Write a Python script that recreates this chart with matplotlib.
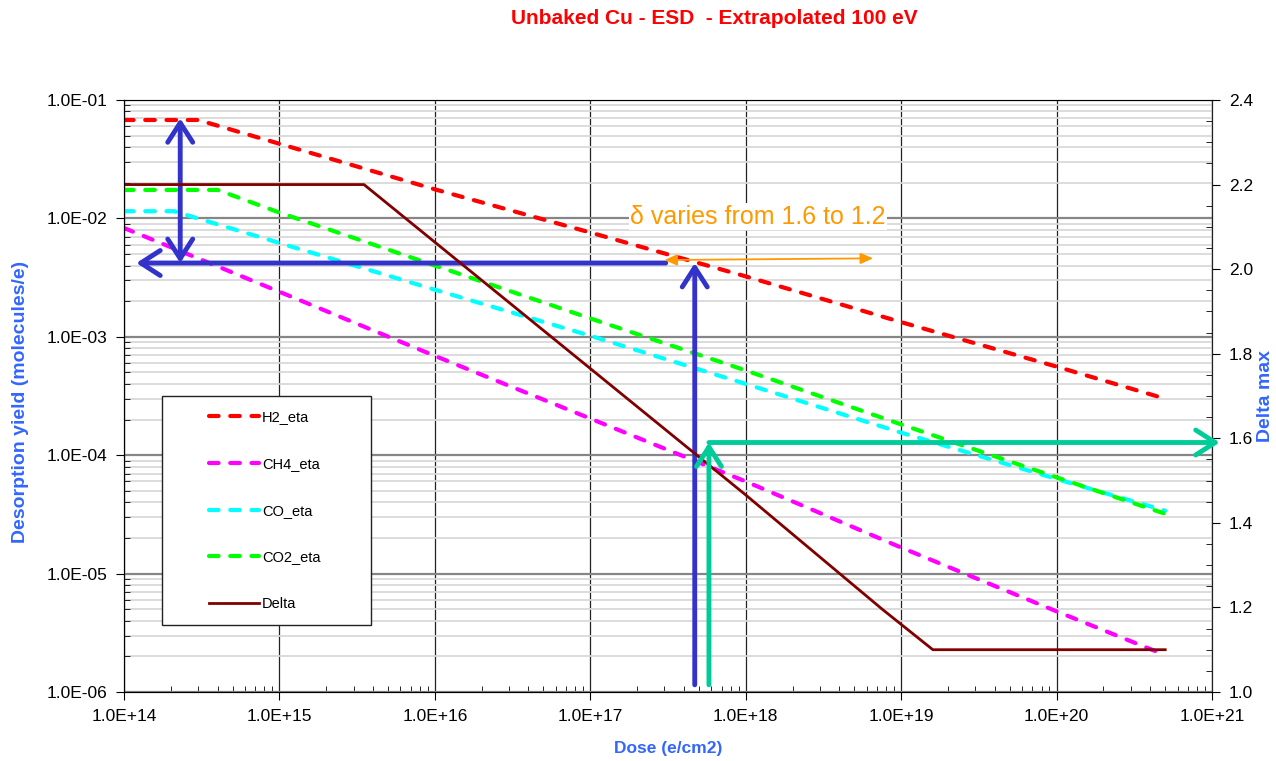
import numpy as np
import matplotlib.pyplot as plt
from matplotlib.ticker import FuncFormatter, LogLocator, MultipleLocator, NullFormatter
from matplotlib.patches import Rectangle

plt.rcParams['font.family'] = ['Liberation Sans', 'DejaVu Sans']

# values (dose in e/cm2, yield in molecules/e)
h2_dose = [1e14, 3e14, 1e15, 1e16, 1e17, 1e18, 1e19, 1e20, 5e20]
h2_eta = [0.0678, 0.0678, 0.0427, 0.0176, 7.6e-3, 3.24e-3, 1.33e-3, 5.6e-4, 3.0e-4]

ch4_dose = [1e14, 1e15, 1e16, 1e17, 1e18, 1e19, 1e20, 5e20]
ch4_eta = [8.3e-3, 2.4e-3, 6.9e-4, 2.04e-4, 6.0e-5, 1.66e-5, 4.8e-6, 2.05e-6]

co_dose = [1e14, 2.1e14, 1e15, 1e16, 1e17, 1e18, 1e19, 1e20, 5e20]
co_eta = [0.0115, 0.0115, 6.2e-3, 2.5e-3, 1.02e-3, 4.0e-4, 1.55e-4, 6.3e-5, 3.4e-5]

co2_dose = [1e14, 4e14, 1e15, 1e16, 1e17, 1e18, 1e19, 1e20, 5e20]
co2_eta = [0.0174, 0.0174, 0.0112, 4.0e-3, 1.43e-3, 5.2e-4, 1.82e-4, 6.5e-5, 3.2e-5]

delta_dose = [1e14, 3.5e15, 1e17, 1e18, 7.6e18, 1.6e19, 5e20]
delta_max = [2.2, 2.2, 1.765, 1.466, 1.195, 1.1, 1.1]

x_ticks = [1e14, 1e15, 1e16, 1e17, 1e18, 1e19, 1e20, 1e21]
y_ticks = [1e-6, 1e-5, 1e-4, 1e-3, 1e-2, 1e-1]

# annotation anchors
blue_y = 4.2e-3
blue_left = 1.2e14
blue_right = 3.06e17
blue_vx1 = 2.3e14
blue_vtop = 0.07
blue_vx2 = 4.7e17
arrow_bottom = 1.15e-6
teal_x = 5.8e17
teal_y = 1.59
teal_end = 1.12e21
orange_left = (3.0e17, 4.45e-3)
orange_right = (6.6e18, 4.6e-3)
note_pos = (1.2e18, 0.0103)

W, H = 1276, 761
fig = plt.figure(figsize=(W / 100, H / 100), dpi=100)
ax = fig.add_axes([124 / W, 1 - 692 / H, (1212 - 124) / W, 592 / H])
ax2 = ax.twinx()

dash = dict(lw=3, dashes=(2.3, 2.8), dash_capstyle='round')
l1, = ax.plot(h2_dose, h2_eta, color='#FF0000', label='H2_eta', **dash)
l2, = ax.plot(ch4_dose, ch4_eta, color='#FF00FF', label='CH4_eta', **dash)
l3, = ax.plot(co_dose, co_eta, color='#00FFFF', label='CO_eta', **dash)
l4, = ax.plot(co2_dose, co2_eta, color='#00FF00', label='CO2_eta', **dash)
l5, = ax2.plot(delta_dose, delta_max, color='#800000', lw=2, label='Delta')

ax.set_xscale('log')
ax.set_yscale('log')
ax.set_xlim(1e14, 1e21)
ax.set_ylim(1e-6, 1e-1)
ax2.set_ylim(1.0, 2.4)

sci = FuncFormatter(lambda v, p: f"{v:.1E}")
ax.set_xticks(x_ticks)
ax.set_yticks(y_ticks)
ax.xaxis.set_minor_locator(LogLocator(base=10, subs=np.arange(2, 10), numticks=20))
ax.yaxis.set_minor_locator(LogLocator(base=10, subs=np.arange(2, 10), numticks=20))
ax.xaxis.set_major_formatter(sci)
ax.yaxis.set_major_formatter(sci)
ax.xaxis.set_minor_formatter(NullFormatter())
ax.yaxis.set_minor_formatter(NullFormatter())
ax2.yaxis.set_major_locator(MultipleLocator(0.2))
ax2.yaxis.set_minor_locator(MultipleLocator(0.05))
ax2.yaxis.set_major_formatter(FuncFormatter(lambda v, p: f"{v:.1f}"))

ax.tick_params(which='major', direction='out', length=6, labelsize=12.5, pad=6)
ax.tick_params(which='minor', direction='in', length=4)
ax2.tick_params(which='major', direction='out', length=6, labelsize=12.5, pad=6)
ax2.tick_params(which='minor', direction='in', length=4)

ax.grid(True, which='minor', axis='y', color='#D9D9D9', lw=1.3)
ax.grid(True, which='major', axis='y', color='#868686', lw=1.6)
ax.grid(True, which='major', axis='x', color='#222222', lw=0.9)
ax.set_axisbelow(True)
ax.spines['top'].set_color('#868686')
for s in ('left', 'bottom'):
    ax.spines[s].set_color('#222222')
ax2.spines['right'].set_color('#222222')

# blue arrows
blue = '#3333CC'
bhead = dict(color=blue, lw=3.5, shrinkA=0, shrinkB=0, mutation_scale=20)
ax.annotate('', xy=(blue_left, blue_y), xytext=(blue_right, blue_y),
            arrowprops=dict(arrowstyle='->,head_length=0.7,head_width=0.45', **bhead))
ax.annotate('', xy=(blue_vx1, blue_vtop), xytext=(blue_vx1, blue_y),
            arrowprops=dict(arrowstyle='<->,head_length=0.7,head_width=0.45', **bhead))
ax.annotate('', xy=(blue_vx2, blue_y), xytext=(blue_vx2, arrow_bottom),
            arrowprops=dict(arrowstyle='->,head_length=0.7,head_width=0.45', **bhead))

# teal arrows on the Delta axis
teal = '#00CC99'
thead = dict(color=teal, lw=3.5, shrinkA=0, shrinkB=0, mutation_scale=20)
ax2.annotate('', xy=(teal_x, teal_y), xytext=(teal_x, 1.017),
             arrowprops=dict(arrowstyle='->,head_length=0.7,head_width=0.45', **thead))
ax2.annotate('', xy=(teal_end, teal_y), xytext=(teal_x, teal_y), annotation_clip=False,
             arrowprops=dict(arrowstyle='->,head_length=0.7,head_width=0.45', **thead))

# orange note
orange = '#FF9900'
ax.annotate('', xy=orange_right, xytext=orange_left,
            arrowprops=dict(arrowstyle='<|-|>,head_length=0.5,head_width=0.22', color=orange,
                            lw=1.3, shrinkA=0, shrinkB=0, mutation_scale=15))
ax.text(*note_pos, 'δ varies from 1.6 to 1.2', ha='center', va='center', color=orange,
        fontsize=18, bbox=dict(fc='white', ec='none', pad=1))

# titles
label_blue = '#3366FF'
fig.text(714 / W, 1 - 18 / H, 'Unbaked Cu - ESD  - Extrapolated 100 eV', ha='center', va='center',
         color='#FF0000', fontsize=15, weight='bold')
fig.text(668 / W, 1 - 748 / H, 'Dose (e/cm2)', ha='center', va='center',
         color=label_blue, fontsize=12.5, weight='bold')
fig.text(21 / W, 1 - 402 / H, 'Desorption yield (molecules/e)', ha='center', va='center',
         rotation=90, color=label_blue, fontsize=14, weight='bold')
fig.text(1266 / W, 1 - 396 / H, 'Delta max', ha='center', va='center',
         rotation=90, color=label_blue, fontsize=14, weight='bold')

# legend box
fig.add_artist(Rectangle((162 / W, 1 - 625 / H), 209 / W, 229 / H, transform=fig.transFigure,
                         fc='white', ec='#222222', lw=1, zorder=4))
fig.legend([l1, l2, l3, l4, l5], ['H2_eta', 'CH4_eta', 'CO_eta', 'CO2_eta', 'Delta'],
           loc='upper left', bbox_to_anchor=(209 / W, 1 - 410 / H), bbox_transform=fig.transFigure,
           frameon=False, fontsize=10.5, handlelength=3.4, handletextpad=0.25,
           labelspacing=2.25, borderpad=0, borderaxespad=0)

fig.savefig('out.png', dpi=100)
